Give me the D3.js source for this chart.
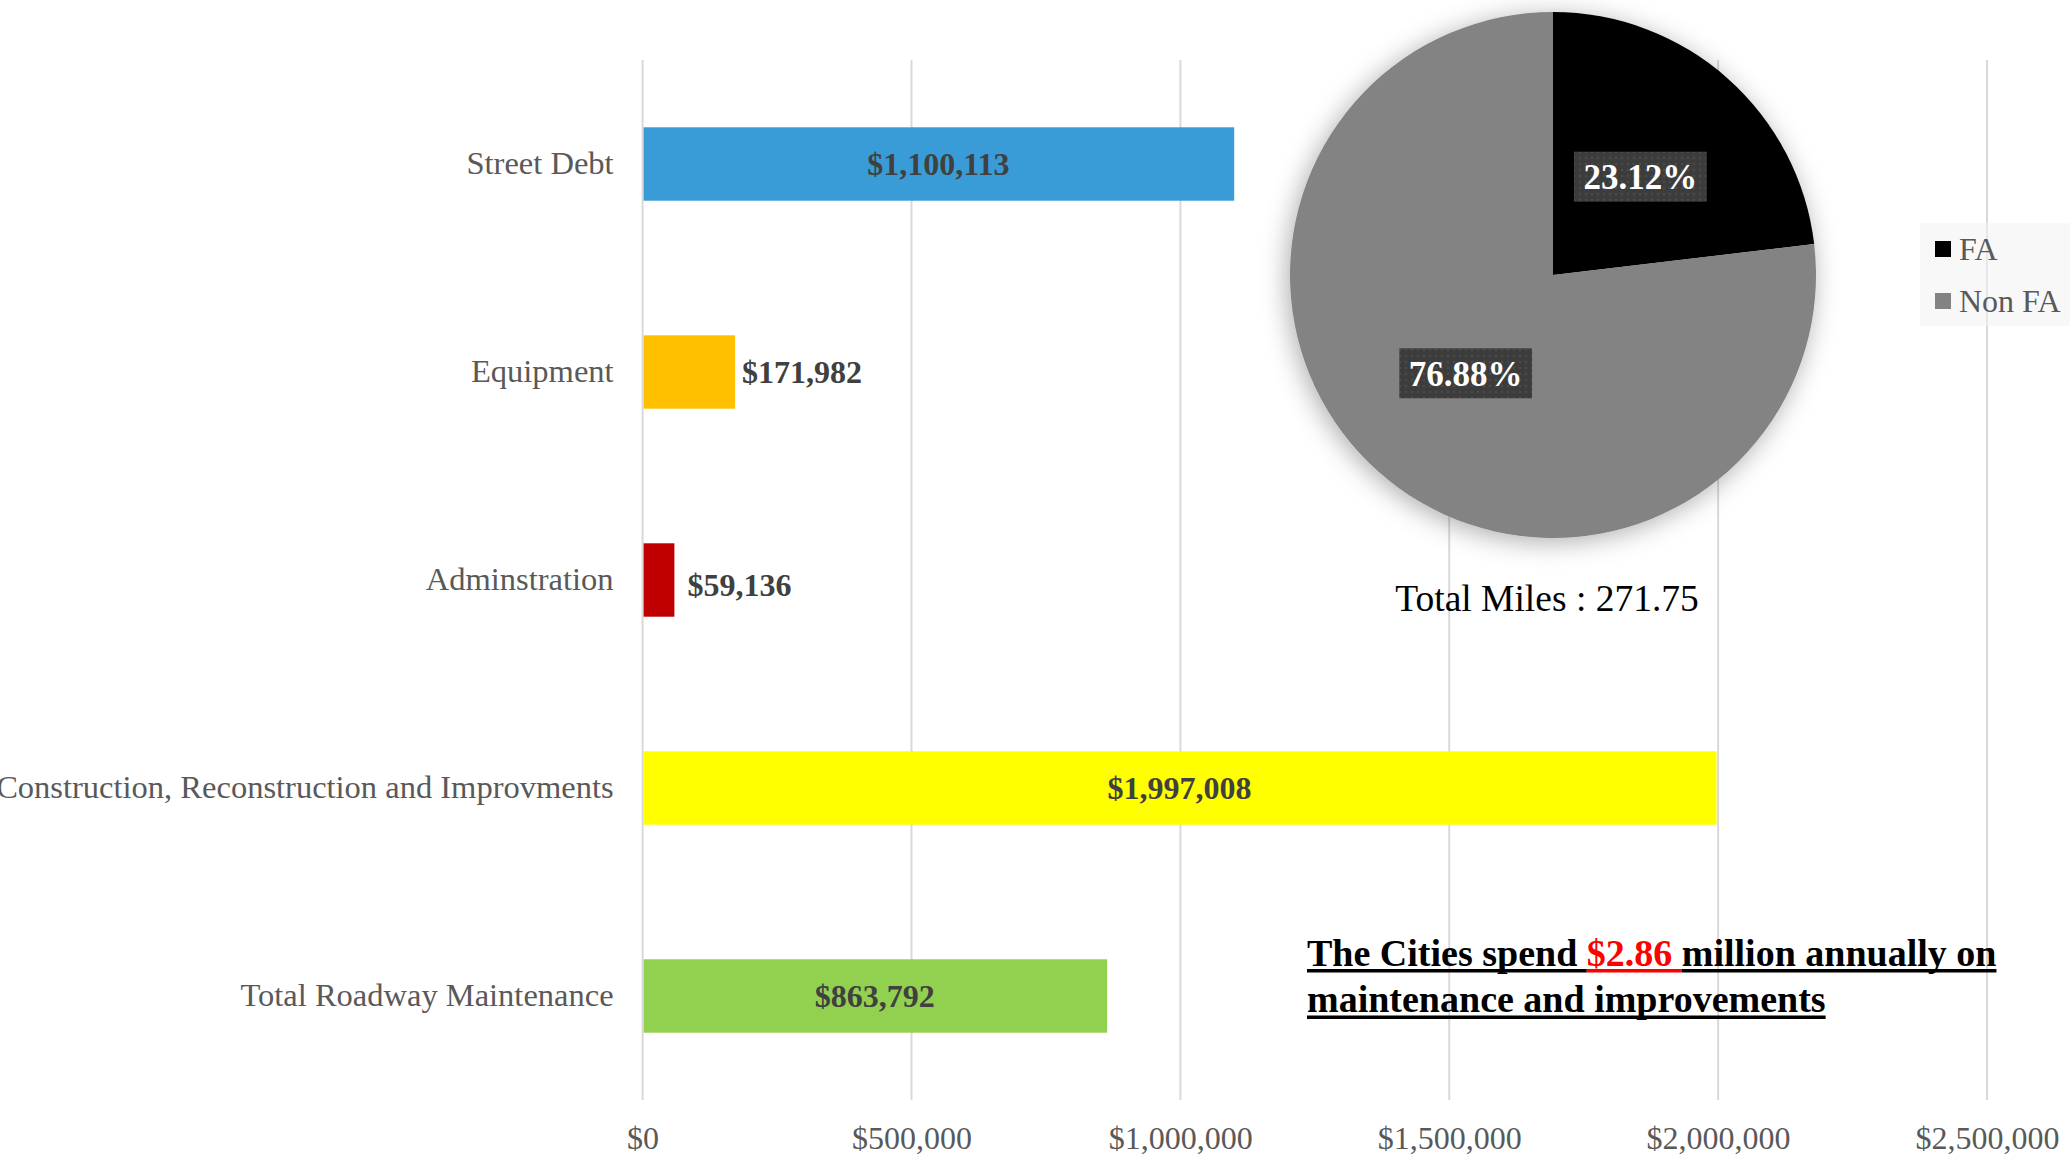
<!DOCTYPE html>
<html>
<head>
<meta charset="utf-8">
<script src="https://cdn.jsdelivr.net/npm/d3@7"></script>
<style>
  html, body { margin: 0; padding: 0; background: #ffffff; }
  svg { display: block; }
  text { font-family: "Liberation Serif", "Times New Roman", serif; }
</style>
</head>
<body>
<svg id="chart" width="2070" height="1160"></svg>
<script>
// ---- data ----
const categories = ["Street Debt", "Equipment", "Adminstration", "Construction, Reconstruction and Improvments", "Total Roadway Maintenance"];
const values = [1100113, 171982, 59136, 1997008, 863792];
const barColors = ["#3a9cd6", "#ffc000", "#c00000", "#ffff00", "#92d050"];
const xTicks = [0, 500000, 1000000, 1500000, 2000000, 2500000];

const pieLabels = ["FA", "Non FA"];
const pieValues = [23.12, 76.88];
const pieColors = ["#000000", "#838383"];
const totalMilesText = "Total Miles : 271.75";

const noteLine1 = ["The Cities spend ", "$2.86 ", "million annually on"];
const noteLine1Colors = ["#000000", "#ff0000", "#000000"];
const noteLine2 = "maintenance and improvements";

// ---- setup ----
const svg = d3.select("#chart");
const defs = svg.append("defs");

const x = d3.scaleLinear().domain([0, 2500000]).range([642.6, 1987]);
const y = d3.scaleBand().domain(categories).range([60, 1100]).paddingInner(0.647).paddingOuter(0.3235);
const money = d3.format("$,");

// gridlines
const grid = svg.append("g");
grid.selectAll("line").data(xTicks).join("line")
  .attr("x1", d => x(d)).attr("x2", d => x(d))
  .attr("y1", 60).attr("y2", 1100)
  .attr("stroke", "#d9d9d9").attr("stroke-width", 2);

// x axis tick labels
const xAxis = d3.axisBottom(x).tickValues(xTicks).tickFormat(money).tickSize(0).tickPadding(0);
const xg = svg.append("g").attr("transform", "translate(0,1126)").call(xAxis);
xg.select(".domain").remove();
xg.selectAll("text").attr("font-size", 32).attr("fill", "#595959")
  .attr("font-family", "Liberation Serif, Times New Roman, serif");

// y axis category labels
const yAxis = d3.axisLeft(y).tickSize(0).tickPadding(29);
const yg = svg.append("g").attr("transform", "translate(642.6,0)").call(yAxis);
yg.select(".domain").remove();
yg.selectAll("text").attr("font-size", 32.5).attr("fill", "#595959")
  .attr("font-family", "Liberation Serif, Times New Roman, serif");

// bars
const barData = categories.map((c, i) => ({ cat: c, v: values[i], color: barColors[i] }));
svg.append("g").selectAll("rect").data(barData).join("rect")
  .attr("x", x(0) + 1)
  .attr("y", d => y(d.cat))
  .attr("width", d => x(d.v) - x(0) - 1)
  .attr("height", y.bandwidth())
  .attr("fill", d => d.color);

// bar labels (small bars: label outside end; Excel nudges the tiniest one)
svg.append("g").selectAll("text").data(barData).join("text")
  .attr("x", d => d.v > 500000 ? (x(0) + x(d.v)) / 2 : x(d.v) + (d.v < 100000 ? 13 : 7))
  .attr("y", d => y(d.cat) + y.bandwidth() / 2 + (d.v < 100000 ? 5 : 0))
  .attr("dy", "0.34em")
  .attr("text-anchor", d => d.v > 500000 ? "middle" : "start")
  .attr("font-size", 32).attr("font-weight", "bold").attr("fill", "#404040")
  .text(d => money(d.v));

// ---- pie ----
const shadow = defs.append("filter").attr("id", "pieShadow")
  .attr("x", "-30%").attr("y", "-30%").attr("width", "160%").attr("height", "160%");
shadow.append("feDropShadow").attr("dx", -3).attr("dy", 4).attr("stdDeviation", 13)
  .attr("flood-color", "#000").attr("flood-opacity", 0.32);

const pat = defs.append("pattern").attr("id", "dots").attr("width", 6).attr("height", 6)
  .attr("patternUnits", "userSpaceOnUse");
pat.append("rect").attr("width", 6).attr("height", 6).attr("fill", "#3c3c3c");
pat.append("circle").attr("cx", 3).attr("cy", 3).attr("r", 1.3).attr("fill", "#4a4a4a");

const cx = 1553, cy = 275, R = 263;
const pie = d3.pie().sort(null).value(d => d)(pieValues);
const arc = d3.arc().innerRadius(0).outerRadius(R);
const pg = svg.append("g").attr("transform", `translate(${cx},${cy})`);
const slices = pg.append("g").attr("filter", "url(#pieShadow)");
slices.selectAll("path").data(pie).join("path")
  .attr("d", arc).attr("fill", (d, i) => pieColors[i]);

pg.selectAll("g.lbl").data(pie).join("g").attr("class", "lbl")
  .each(function(d) {
    const g = d3.select(this);
    const [lx, ly] = arc.centroid(d);
    const t = g.append("text")
      .attr("x", lx).attr("y", ly).attr("dy", "0.36em")
      .attr("text-anchor", "middle")
      .attr("font-size", 35).attr("font-weight", "bold").attr("fill", "#ffffff")
      .text(d3.format(".2f")(d.data) + "%");
    const w = t.node().getComputedTextLength() + 19;
    g.insert("rect", "text")
      .attr("x", lx - w / 2).attr("y", ly - 25).attr("width", w).attr("height", 50)
      .attr("fill", "url(#dots)");
  });

// total miles
svg.append("text").attr("x", 1547).attr("y", 611).attr("text-anchor", "middle")
  .attr("font-size", 37.5).attr("fill", "#000").text(totalMilesText);

// legend
const lg = svg.append("g");
lg.append("rect").attr("x", 1920).attr("y", 223).attr("width", 150).attr("height", 103)
  .attr("fill", "#f2f2f2").attr("fill-opacity", 0.55);
pieLabels.forEach((lab, i) => {
  const yy = 249 + i * 52;
  lg.append("rect").attr("x", 1935).attr("y", yy - 8).attr("width", 16).attr("height", 16)
    .attr("fill", pieColors[i]);
  lg.append("text").attr("x", 1959).attr("y", yy).attr("dy", "0.34em")
    .attr("font-size", 32).attr("fill", "#595959").text(lab);
});

// ---- note ----
const ng = svg.append("g");
let cursor = 1307;
noteLine1.forEach((s, i) => {
  const t = ng.append("text").attr("x", cursor).attr("y", 966)
    .attr("font-size", 38).attr("font-weight", "bold").attr("fill", noteLine1Colors[i])
    .attr("xml:space", "preserve").style("white-space", "pre").text(s);
  const w = t.node().getComputedTextLength();
  ng.append("rect").attr("x", cursor).attr("y", 969).attr("width", w).attr("height", 3.5)
    .attr("fill", noteLine1Colors[i]);
  cursor += w;
});
const t2 = ng.append("text").attr("x", 1307).attr("y", 1012)
  .attr("font-size", 38).attr("font-weight", "bold").attr("fill", "#000").text(noteLine2);
ng.append("rect").attr("x", 1307).attr("y", 1015.5)
  .attr("width", t2.node().getComputedTextLength()).attr("height", 3.5).attr("fill", "#000");
</script>
</body>
</html>
